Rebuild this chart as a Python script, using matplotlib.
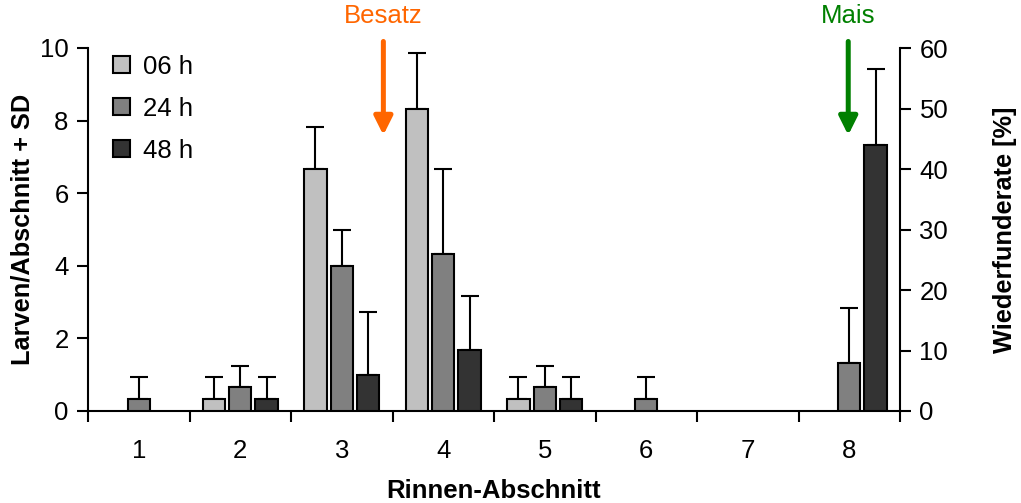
import matplotlib
matplotlib.use("Agg")
import matplotlib.pyplot as plt
import numpy as np

plt.rcParams['font.family'] = ['Liberation Sans', 'DejaVu Sans']

sections = [1, 2, 3, 4, 5, 6, 7, 8]
series_names = ["06 h", "24 h", "48 h"]
vals_06 = [0, 0.33, 6.67, 8.33, 0.33, 0, 0, 0]
vals_24 = [0.33, 0.67, 4.0, 4.33, 0.67, 0.33, 0, 1.33]
vals_48 = [0, 0.33, 1.0, 1.67, 0.33, 0, 0, 7.33]
sd_06 = [0, 0.6, 1.15, 1.52, 0.6, 0, 0, 0]
sd_24 = [0.6, 0.58, 0.98, 2.33, 0.58, 0.6, 0, 1.5]
sd_48 = [0, 0.6, 1.73, 1.5, 0.6, 0, 0, 2.1]
colors = ["#C0C0C0", "#808080", "#333333"]

fig = plt.figure(figsize=(10.21, 5.03), dpi=100)
ax = fig.add_axes([88/1021, 1-411/503, 812/1021, 363/503])

x = np.array(sections, dtype=float)
width = 0.22
offsets = [-0.26, 0, 0.26]
for vals, sd, col, off, name in zip([vals_06, vals_24, vals_48], [sd_06, sd_24, sd_48], colors, offsets, series_names):
    v = np.array(vals)
    s = np.array(sd)
    mask = v > 0
    ax.bar(x[mask] + off, v[mask], width, color=col, edgecolor='black', linewidth=1.5, label=name, zorder=3)
    ax.errorbar(x[mask] + off, v[mask], yerr=[np.zeros(mask.sum()), s[mask]], fmt='none',
                ecolor='black', elinewidth=1.5, capsize=6.5, capthick=1.5, zorder=2)

ax.set_xlim(0.5, 8.5)
ax.set_ylim(0, 10)
ax.set_yticks([0, 2, 4, 6, 8, 10])
ax.set_xticks(sections)
ax.set_xticklabels([str(s) for s in sections])
ax.set_xticks(np.arange(0.5, 9.0, 1.0), minor=True)
ax.tick_params(axis='x', which='major', length=0, labelsize=18.5, pad=20)
ax.tick_params(axis='x', which='minor', length=8, width=1.5, direction='out')
ax.tick_params(axis='y', length=8, width=1.5, direction='out', labelsize=18.5, pad=6)
for sp in ['top', 'right']:
    ax.spines[sp].set_visible(False)
for sp in ['left', 'bottom']:
    ax.spines[sp].set_linewidth(1.5)

ax2 = ax.twinx()
ax2.set_ylim(0, 60)
ax2.set_yticks([0, 10, 20, 30, 40, 50, 60])
ax2.tick_params(axis='y', length=8, width=1.5, direction='out', labelsize=18.5, pad=6)
for sp in ['top', 'left', 'bottom']:
    ax2.spines[sp].set_visible(False)
ax2.spines['right'].set_linewidth(1.5)

ax.set_xlabel("Rinnen-Abschnitt", fontsize=18.5, fontweight='bold', labelpad=12)
ax.set_ylabel("Larven/Abschnitt + SD", fontsize=18.3, fontweight='bold', labelpad=4)
ax2.set_ylabel("Wiederfunderate [%]", fontsize=18.3, fontweight='bold', labelpad=32)

leg = ax.legend(loc='upper left', bbox_to_anchor=(0.002, 1.045), frameon=False, fontsize=18.5,
                handlelength=0.66, handleheight=0.66, handletextpad=0.5, labelspacing=0.7)

# annotations
arrow_kw = dict(arrowstyle='-|>,head_length=1.1,head_width=0.55', lw=3.6,
                shrinkA=0, shrinkB=0, mutation_scale=10)
ax.annotate("", xy=(3.41, 7.6), xytext=(3.41, 10.18), annotation_clip=False,
            arrowprops=dict(color='#FF6600', **arrow_kw))
ax.text(3.41, 10.55, "Besatz", color='#FF6600', fontsize=18.5, ha='center', va='bottom', clip_on=False)
ax.annotate("", xy=(7.99, 7.6), xytext=(7.99, 10.18), annotation_clip=False,
            arrowprops=dict(color='#008000', **arrow_kw))
ax.text(7.99, 10.55, "Mais", color='#008000', fontsize=18.5, ha='center', va='bottom', clip_on=False)

fig.savefig("out.png", dpi=100)
